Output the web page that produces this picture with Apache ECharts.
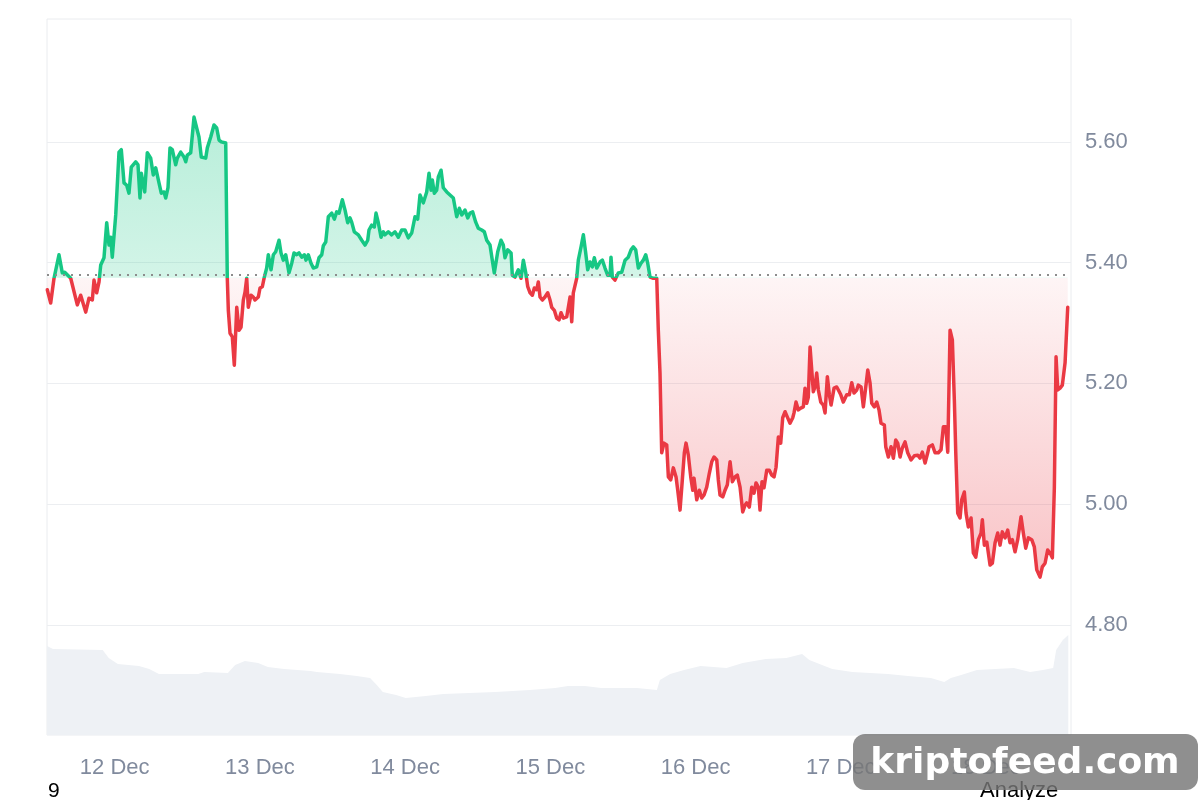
<!DOCTYPE html>
<html>
<head>
<meta charset="utf-8">
<title>Price chart</title>
<script src="https://cdn.jsdelivr.net/npm/echarts@6.0.0/dist/echarts.min.js"></script>
<style>
  html, body { margin: 0; padding: 0; background: #fff; }
  #chart { width: 1200px; height: 800px; }
</style>
</head>
<body>
<div id="chart"></div>
<script>
// start of the visible window (UTC) and its length in hours
var START = Date.UTC(2024, 11, 11, 12, 48, 36);
var SPAN_H = 169.25;
var BASE = 5.375; // opening price, drawn as the dotted line

// hours after START, price
var hours = [
  0.05,0.61,0.88,1.16,1.98,2.53,2.93,3.92,5.01,5.57,6.40,6.94,7.49,7.77,8.21,8.60,8.88,9.42,9.87,10.25,
  10.53,10.79,11.36,11.90,12.28,12.73,13.17,13.55,13.93,14.26,14.66,15.04,15.37,15.59,15.92,16.15,16.58,17.14,17.57,17.97,
  18.51,18.89,19.34,19.62,20.00,20.33,20.71,21.27,21.54,22.10,22.64,22.93,23.19,23.75,24.30,24.74,25.12,25.50,26.23,26.50,
  27.06,27.60,28.05,28.43,28.81,29.14,29.54,29.80,
  29.97,30.25,30.63,30.96,31.36,31.74,32.07,32.45,32.73,33.01,33.27,33.72,34.10,34.38,34.93,35.21,35.59,35.92,36.31,36.58,
  37.03,37.41,37.80,38.35,38.68,39.06,39.46,40.00,40.45,40.83,41.27,41.65,42.10,42.53,42.81,43.19,43.64,44.02,44.58,44.96,
  45.41,45.67,46.07,46.50,47.06,47.49,47.88,48.27,48.81,49.26,49.70,50.08,50.36,50.79,51.46,52.02,52.56,53.01,53.22,53.67,
  54.10,54.38,54.76,55.21,55.59,55.87,56.41,56.97,57.52,58.07,58.63,58.89,
  59.17,59.72,60.28,60.83,61.27,61.65,62.20,62.76,63.14,63.47,63.69,64.02,64.41,64.68,65.13,65.50,66.07,66.61,67.16,67.72,
  68.15,68.55,69.09,69.54,69.92,70.36,70.86,71.29,71.85,72.28,72.68,73.22,73.60,73.93,74.50,75.04,75.42,75.70,76.15,76.70,
  76.91,77.36,77.90,78.35,78.73,79.13,79.46,79.84,80.22,80.55,80.94,81.21,81.49,81.87,82.31,82.76,83.14,83.42,83.85,84.25,
  84.63,84.96,85.34,85.90,86.17,86.45,86.73,86.99,87.55,87.82,88.27,88.65,89.04,89.37,89.75,90.13,90.46,90.86,91.41,91.79,
  92.23,92.68,93.06,93.22,93.44,93.88,94.43,94.99,95.54,96.08,96.53,96.91,97.31,97.74,98.18,98.56,98.96,99.29,99.67,100.22,
  100.78,
  101.04,101.32,101.60,101.98,102.43,102.70,103.09,103.52,103.97,104.25,104.63,105.01,105.34,105.62,106.00,106.40,106.73,106.94,107.39,107.82,
  108.22,108.60,109.04,109.47,109.87,110.25,110.70,110.96,111.24,111.69,112.07,112.45,112.90,113.28,113.72,114.10,114.55,114.99,115.37,115.65,
  116.08,116.48,116.86,117.19,117.57,117.85,118.18,118.51,118.96,119.39,119.79,120.17,120.50,120.88,121.27,121.60,121.99,122.37,122.81,123.26,
  123.47,123.80,124.18,124.58,125.01,125.29,125.57,125.83,126.12,126.40,126.66,126.94,127.22,127.49,127.89,128.32,128.60,128.98,129.31,129.59,
  130.09,130.53,130.80,131.20,131.62,132.18,132.61,133.01,133.39,133.84,
  134.10,134.55,134.93,135.33,135.66,136.03,136.32,136.75,137.14,137.52,137.85,138.40,138.63,139.06,139.51,139.89,140.28,140.61,141.00,141.37,
  141.82,142.26,142.81,143.36,143.92,144.30,144.68,145.13,145.57,145.79,146.33,146.78,147.32,147.77,148.15,148.55,148.88,149.26,149.64,149.97,
  150.20,150.53,150.91,151.19,151.62,151.90,152.28,152.73,153.11,153.51,153.94,154.38,154.60,154.93,155.33,155.87,156.25,156.70,157.14,157.52,
  157.90,158.35,158.79,159.17,159.55,160.00,160.44,160.99,161.37,161.77,162.20,162.76,163.19,163.59,164.13,164.51,164.96,165.40,165.79,166.17,
  166.50,166.78,167.06,167.44,167.82,168.27,168.71
];
var prices = [
  5.355,5.333,5.335,5.374,5.413,5.383,5.384,5.374,5.330,5.346,5.318,5.341,5.338,5.371,5.350,5.368,5.396,5.408,5.466,5.429,
  5.442,5.409,5.479,5.583,5.587,5.532,5.528,5.515,5.558,5.557,5.567,5.562,5.507,5.548,5.545,5.517,5.582,5.573,5.545,5.557,
  5.532,5.515,5.517,5.507,5.524,5.590,5.587,5.562,5.573,5.583,5.575,5.567,5.578,5.582,5.641,5.623,5.608,5.575,5.573,5.590,
  5.608,5.628,5.623,5.603,5.600,5.600,5.598,5.374,
  5.321,5.283,5.277,5.230,5.326,5.288,5.293,5.338,5.351,5.374,5.326,5.346,5.343,5.338,5.343,5.358,5.360,5.376,5.391,5.413,
  5.388,5.413,5.418,5.437,5.416,5.404,5.413,5.383,5.399,5.416,5.413,5.416,5.409,5.413,5.404,5.413,5.399,5.391,5.393,5.408,
  5.413,5.428,5.434,5.476,5.482,5.472,5.484,5.482,5.504,5.487,5.466,5.474,5.467,5.451,5.446,5.437,5.429,5.437,5.454,5.462,
  5.459,5.482,5.466,5.442,5.451,5.446,5.451,5.446,5.451,5.442,5.454,5.457,
  5.454,5.441,5.449,5.476,5.472,5.512,5.499,5.517,5.548,5.520,5.537,5.515,5.520,5.542,5.553,5.524,5.517,5.512,5.507,5.476,
  5.490,5.479,5.487,5.474,5.482,5.484,5.467,5.457,5.454,5.451,5.437,5.429,5.404,5.383,5.418,5.437,5.429,5.408,5.421,5.416,
  5.379,5.376,5.388,5.374,5.404,5.383,5.360,5.350,5.346,5.358,5.355,5.368,5.343,5.338,5.343,5.350,5.338,5.326,5.321,5.308,
  5.305,5.317,5.308,5.310,5.313,5.343,5.302,5.350,5.374,5.404,5.426,5.446,5.416,5.388,5.401,5.393,5.408,5.391,5.401,5.404,
  5.391,5.379,5.379,5.409,5.376,5.371,5.383,5.384,5.404,5.409,5.421,5.426,5.421,5.391,5.399,5.404,5.413,5.399,5.376,5.374,
  5.374,
  5.288,5.217,5.085,5.101,5.098,5.045,5.040,5.060,5.045,5.023,4.990,5.040,5.085,5.101,5.081,5.045,5.023,5.043,5.007,5.023,
  5.010,5.015,5.028,5.051,5.070,5.078,5.073,5.040,5.015,5.012,5.023,5.032,5.070,5.037,5.045,5.048,5.028,4.987,4.998,5.002,
  4.995,5.028,5.018,5.035,5.028,4.990,5.037,5.027,5.056,5.056,5.048,5.045,5.061,5.111,5.101,5.143,5.153,5.144,5.134,5.143,
  5.151,5.169,5.156,5.159,5.161,5.192,5.167,5.177,5.260,5.222,5.186,5.194,5.217,5.189,5.169,5.164,5.151,5.211,5.181,5.164,
  5.192,5.194,5.189,5.181,5.169,5.181,5.181,5.201,5.184,5.189,
  5.197,5.194,5.161,5.194,5.222,5.201,5.167,5.161,5.169,5.156,5.134,5.131,5.095,5.078,5.095,5.076,5.106,5.101,5.078,5.093,
  5.103,5.085,5.073,5.080,5.081,5.076,5.086,5.068,5.085,5.095,5.098,5.085,5.085,5.090,5.128,5.128,5.086,5.288,5.272,5.172,
  5.086,4.985,4.977,5.007,5.020,4.985,4.962,4.977,4.919,4.912,4.941,4.952,4.974,4.932,4.937,4.899,4.902,4.936,4.952,4.932,
  4.954,4.944,4.957,4.936,4.941,4.921,4.941,4.979,4.952,4.927,4.944,4.941,4.929,4.891,4.879,4.896,4.902,4.924,4.919,4.911,
  5.028,5.244,5.189,5.192,5.197,5.234,5.326
];

// volume profile (hours after START, volume in M)
var volHours = [
  0,0.99,9.2,10.2,11.7,15.2,16.9,18.5,25.0,26.0,29.9,31.1,32.7,34.9,36.5,39.2,43.6,44.6,48.4,51.2,
  53.4,54.5,55.5,57.7,59.3,62.6,65.5,74.1,79.8,84.0,86.1,88.9,91.6,97.5,100.8,101.3,103.0,105.3,108.0,112.3,
  115.0,118.8,122.2,124.8,126.0,128.1,129.8,133.1,139.0,142.3,146.1,148.3,149.4,151.1,153.7,159.8,162.5,164.6,166.3,166.8,
  167.9,168.8
];
var volumes = [
  8.9,8.6,8.5,7.7,7.1,6.9,6.6,6.1,6.1,6.3,6.2,7.0,7.4,7.2,6.8,6.6,6.4,6.3,6.1,5.9,
  5.7,5.0,4.3,4.0,3.7,3.9,4.1,4.3,4.5,4.7,4.9,4.9,4.7,4.7,4.5,5.5,6.1,6.5,6.9,6.7,
  7.2,7.6,7.7,8.1,7.5,7.0,6.6,6.3,6.1,5.9,5.7,5.3,5.7,6.0,6.5,6.7,6.3,6.5,6.7,8.5,
  9.5,10.0
];

var dayTicks = [12, 13, 14, 15, 16, 17, 18];
var priceTicks = [4.8, 5.0, 5.2, 5.4, 5.6];
var MONTHS = ['Jan','Feb','Mar','Apr','May','Jun','Jul','Aug','Sep','Oct','Nov','Dec'];

var Y_MIN = 4.6175, Y_MAX = 5.8035;
var GRID_TOP = 19, GRID_BOTTOM = 65, CH = 800;

var GREEN = '#16c784';
var RED = '#ea3943';
var LABEL = '#808a9d';
var FONT = 'Liberation Sans, Arial, sans-serif';

var H = 3600 * 1000;
var priceData = hours.map(function (h, i) { return [START + h * H, prices[i]]; });
var volData = volHours.map(function (h, i) { return [START + h * H, volumes[i]]; });
var tickTimes = dayTicks.map(function (d) { return Date.UTC(2024, 11, d); });

// where the baseline falls inside the plot, 0 = top, 1 = bottom
var cut = (Y_MAX - BASE) / (Y_MAX - Y_MIN);
function plotGradient(stops) {
  return {
    type: 'linear', x: 0, y: GRID_TOP, x2: 0, y2: CH - GRID_BOTTOM, global: true,
    colorStops: stops
  };
}

var myChart = echarts.init(document.getElementById('chart'));

var option = {
  animation: false,
  backgroundColor: '#fff',
  grid: {
    left: 47, right: 129, top: GRID_TOP, bottom: GRID_BOTTOM,
    show: true,
    borderColor: '#eaecef',
    borderWidth: 1
  },
  // timestamps on a plain value axis, ticks put at each midnight
  xAxis: {
    type: 'value',
    min: START,
    max: START + SPAN_H * H,
    axisLine: { show: false },
    axisTick: { show: false, customValues: tickTimes },
    splitLine: { show: false },
    axisLabel: {
      customValues: tickTimes,
      color: LABEL,
      fontSize: 22,
      fontFamily: FONT,
      margin: 22,
      formatter: function (v) {
        var d = new Date(v);
        return d.getUTCDate() + ' ' + MONTHS[d.getUTCMonth()];
      }
    }
  },
  yAxis: [{
    type: 'value',
    position: 'right',
    min: Y_MIN,
    max: Y_MAX,
    axisLine: { show: false },
    axisTick: { show: false, customValues: priceTicks },
    splitLine: { show: true, lineStyle: { color: '#eceef1', width: 1 } },
    axisLabel: {
      customValues: priceTicks,
      color: LABEL,
      fontSize: 22,
      fontFamily: FONT,
      margin: 14,
      formatter: function (v) { return v.toFixed(2); }
    }
  }, {
    type: 'value',
    min: 0,
    max: 71.6,
    show: false,
    splitLine: { show: false }
  }],
  series: [{
    name: 'Volume',
    type: 'line',
    yAxisIndex: 1,
    data: volData,
    showSymbol: false,
    silent: true,
    z: 1,
    lineStyle: { width: 0 },
    areaStyle: { color: '#eef1f5', opacity: 1 }
  }, {
    name: 'Price',
    type: 'line',
    data: priceData,
    showSymbol: false,
    z: 3,
    lineStyle: {
      width: 3.5,
      join: 'round',
      cap: 'round',
      color: plotGradient([
        { offset: 0, color: GREEN },
        { offset: cut, color: GREEN },
        { offset: cut, color: RED },
        { offset: 1, color: RED }
      ])
    },
    areaStyle: {
      origin: BASE,
      opacity: 1,
      color: plotGradient([
        { offset: 0, color: 'rgba(22,199,132,0.38)' },
        { offset: cut, color: 'rgba(22,199,132,0.19)' },
        { offset: cut, color: 'rgba(234,57,67,0.05)' },
        { offset: 0.78, color: 'rgba(234,57,67,0.30)' },
        { offset: 1, color: 'rgba(234,57,67,0.34)' }
      ])
    },
    markLine: {
      silent: true,
      symbol: 'none',
      label: { show: false },
      lineStyle: { color: '#8c8c8c', type: [2, 6], width: 2 },
      data: [{ yAxis: BASE }]
    }
  }],
  graphic: [{
    type: 'text',
    left: 48, top: 781,
    z: 100,
    style: { text: '9', fill: '#000', font: '21px ' + FONT }
  }, {
    type: 'text',
    left: 980, top: 780,
    z: 100,
    style: { text: 'Analyze', fill: '#000', font: '22px ' + FONT }
  }, {
    type: 'group',
    z: 100,
    children: [{
      type: 'rect',
      z: 100,
      shape: { x: 853, y: 734, width: 345, height: 56, r: 12 },
      style: { fill: 'rgba(118,118,118,0.82)' }
    }, {
      type: 'text',
      z: 101,
      style: {
        text: 'kriptofeed.com',
        x: 1025, y: 764,
        align: 'center',
        verticalAlign: 'middle',
        fill: '#fff',
        font: 'bold 36px DejaVu Sans, sans-serif',
        textShadowColor: '#000',
        textShadowOffsetX: 2,
        textShadowOffsetY: 2,
        textShadowBlur: 0
      }
    }]
  }]
};
myChart.setOption(option);
</script>
</body>
</html>
